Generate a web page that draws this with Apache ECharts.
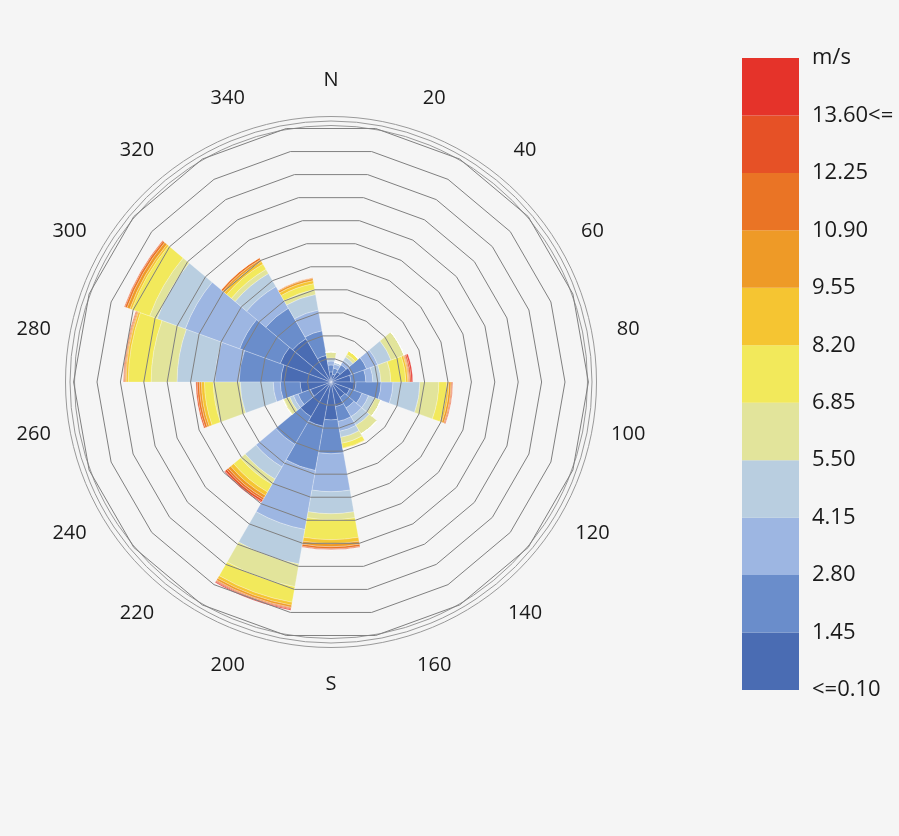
<!DOCTYPE html>
<html>
<head>
<meta charset="utf-8">
<script src="https://cdn.jsdelivr.net/npm/echarts@6.0.0/dist/echarts.min.js"></script>
<style>
html, body { margin: 0; padding: 0; background: #f5f5f5; }
#main { width: 899px; height: 836px; }
</style>
</head>
<body>
<div id="main"></div>
<script>
var myChart = echarts.init(document.getElementById('main'));

// wind directions (20 degree bins, centred on the label)
var directions = ['N', '20', '40', '60', '80', '100', '120', '140', '160', 'S', '200', '220', '240', '260', '280', '300', '320', '340'];
// legend boundaries, bottom to top
var speedLabels = ['<=0.10', '1.45', '2.80', '4.15', '5.50', '6.85', '8.20', '9.55', '10.90', '12.25', '13.60<=', 'm/s'];
var bandColors = ['#4a6cb3', '#6a8dcb', '#9db6e2', '#b9cee0', '#e2e49b', '#f2e95b', '#f5c532', '#ee9a27', '#ea7425', '#e65126', '#e5332a'];

// frequency (% of hours) per speed band, one value per direction
var band1 = [0.43, 0.34, 0.51, 0.94, 0.85, 1.07, 0.85, 0.77, 1.07, 1.62, 1.92, 1.71, 0.94, 1.32, 2.14, 2.31, 2.14, 1.15];
var band2 = [0.30, 0.26, 0.34, 0.68, 0.64, 1.07, 0.56, 0.51, 0.64, 1.45, 1.92, 1.37, 0.56, 0.85, 1.79, 1.84, 1.50, 1.07];
var band3 = [0.17, 0.17, 0.21, 0.51, 0.30, 0.51, 0.30, 0.43, 0.43, 1.62, 2.56, 1.11, 0.21, 0.30, 1.03, 2.48, 1.07, 0.90];
var band4 = [0.13, 0.09, 0.17, 0.60, 0.34, 1.15, 0.30, 0.43, 0.26, 0.94, 1.50, 0.60, 0.17, 1.41, 1.62, 1.28, 0.64, 0.68];
var band5 = [0.26, 0, 0.13, 0.60, 0.43, 0.81, 0.26, 0.43, 0.26, 0.26, 0.98, 0.26, 0.26, 1.15, 1.11, 0.34, 0.21, 0.21];
var band6 = [0, 0, 0.17, 0, 0.64, 0.34, 0, 0, 0.21, 0.85, 0.68, 0.38, 0.04, 0.38, 0.98, 0.81, 0.26, 0.26];
var band7 = [0, 0, 0, 0, 0.09, 0.09, 0, 0, 0.04, 0.17, 0.13, 0.17, 0, 0.13, 0.09, 0.09, 0.13, 0.13];
var band8 = [0, 0, 0, 0, 0.04, 0.09, 0, 0, 0, 0.13, 0.09, 0.13, 0, 0.09, 0.04, 0.13, 0.09, 0.09];
var band9 = [0, 0, 0, 0, 0.04, 0.04, 0, 0, 0, 0.09, 0.04, 0.09, 0, 0.09, 0.04, 0.09, 0.09, 0.04];
var band10 = [0, 0, 0, 0, 0.06, 0.04, 0, 0, 0, 0.04, 0.04, 0.09, 0, 0.06, 0.04, 0.04, 0, 0];
var band11 = [0, 0, 0, 0, 0.06, 0, 0, 0, 0, 0, 0.04, 0.04, 0, 0, 0, 0, 0, 0];
var bands = [band1, band2, band3, band4, band5, band6, band7, band8, band9, band10, band11];

var ringCount = 11;      // frequency rings, 1% each
var labelRadius = 12.9;  // where the compass labels sit, in ring units
var fontName = '"Open Sans", "Noto Sans", sans-serif';

var roseSeries = bands.map(function (d, i) {
    return {
        name: speedLabels[i] + ' - ' + speedLabels[i + 1],
        type: 'bar',
        coordinateSystem: 'polar',
        polarIndex: 0,
        stack: 'rose',
        barCategoryGap: '0%',
        data: d,
        itemStyle: {
            color: bandColors[i],
            borderColor: 'rgba(255,255,255,0.5)',
            borderWidth: 0.5
        },
        z: 2
    };
});

var legendSeries = bands.map(function (d, i) {
    return {
        type: 'bar',
        xAxisIndex: 0,
        yAxisIndex: 0,
        stack: 'legend',
        barWidth: '100%',
        data: [1],
        itemStyle: { color: bandColors[i] },
        silent: true
    };
});

var labelSeries = {
    type: 'scatter',
    coordinateSystem: 'polar',
    polarIndex: 0,
    clip: false,
    silent: true,
    symbolSize: 1,
    itemStyle: { color: 'rgba(0,0,0,0)', opacity: 1 },
    label: {
        show: true,
        position: 'inside',
        formatter: function (p) { return p.name; },
        fontSize: 20,
        fontFamily: fontName,
        color: '#1a1a1a'
    },
    data: directions.map(function (d, i) {
        return { name: d, value: [labelRadius, i] };
    }),
    z: 5
};

option = {
    backgroundColor: '#f5f5f5',
    animation: false,
    textStyle: { fontFamily: fontName },
    polar: [
        { center: [331, 382], radius: 257.4 },
        { center: [331, 382], radius: [256.5, 265.5] }
    ],
    angleAxis: [{
        polarIndex: 0,
        type: 'category',
        data: directions,
        startAngle: 100,
        clockwise: true,
        axisLine: { show: false },
        axisTick: { show: false },
        axisLabel: { show: false },
        splitLine: { show: false }
    }, {
        polarIndex: 1,
        type: 'value',
        show: false
    }],
    radiusAxis: [{
        polarIndex: 0,
        type: 'value',
        min: 0,
        max: ringCount,
        axisLine: { show: false },
        axisTick: { show: false },
        axisLabel: { show: false },
        splitLine: { show: false }
    }, {
        polarIndex: 1,
        type: 'value',
        min: 0,
        max: 2,
        interval: 1,
        axisLine: { show: false },
        axisTick: { show: false },
        axisLabel: { show: false },
        splitLine: { show: true, lineStyle: { color: '#9a9a9a', width: 1 } }
    }],
    radar: {
        center: [331, 382],
        radius: 257.4,
        startAngle: 80,
        splitNumber: ringCount,
        shape: 'polygon',
        indicator: directions.map(function () { return { name: '', max: ringCount }; }),
        axisName: { show: false },
        axisLine: { show: false },
        axisTick: { show: false },
        axisLabel: { show: false },
        splitArea: { show: false },
        splitLine: { lineStyle: { color: '#808080', width: 1 } },
        z: 3
    },
    grid: { left: 742, top: 58, width: 57, height: 632 },
    xAxis: { type: 'category', data: ['m/s'], show: false },
    yAxis: {
        type: 'value',
        min: 0,
        max: 11,
        interval: 1,
        position: 'right',
        axisLine: { show: false },
        axisTick: { show: false },
        splitLine: { show: false },
        axisLabel: {
            margin: 13,
            fontSize: 22,
            fontFamily: fontName,
            color: '#1a1a1a',
            formatter: function (v) { return speedLabels[v]; }
        }
    },
    series: roseSeries.concat(legendSeries, [labelSeries])
};

myChart.setOption(option);
</script>
</body>
</html>
